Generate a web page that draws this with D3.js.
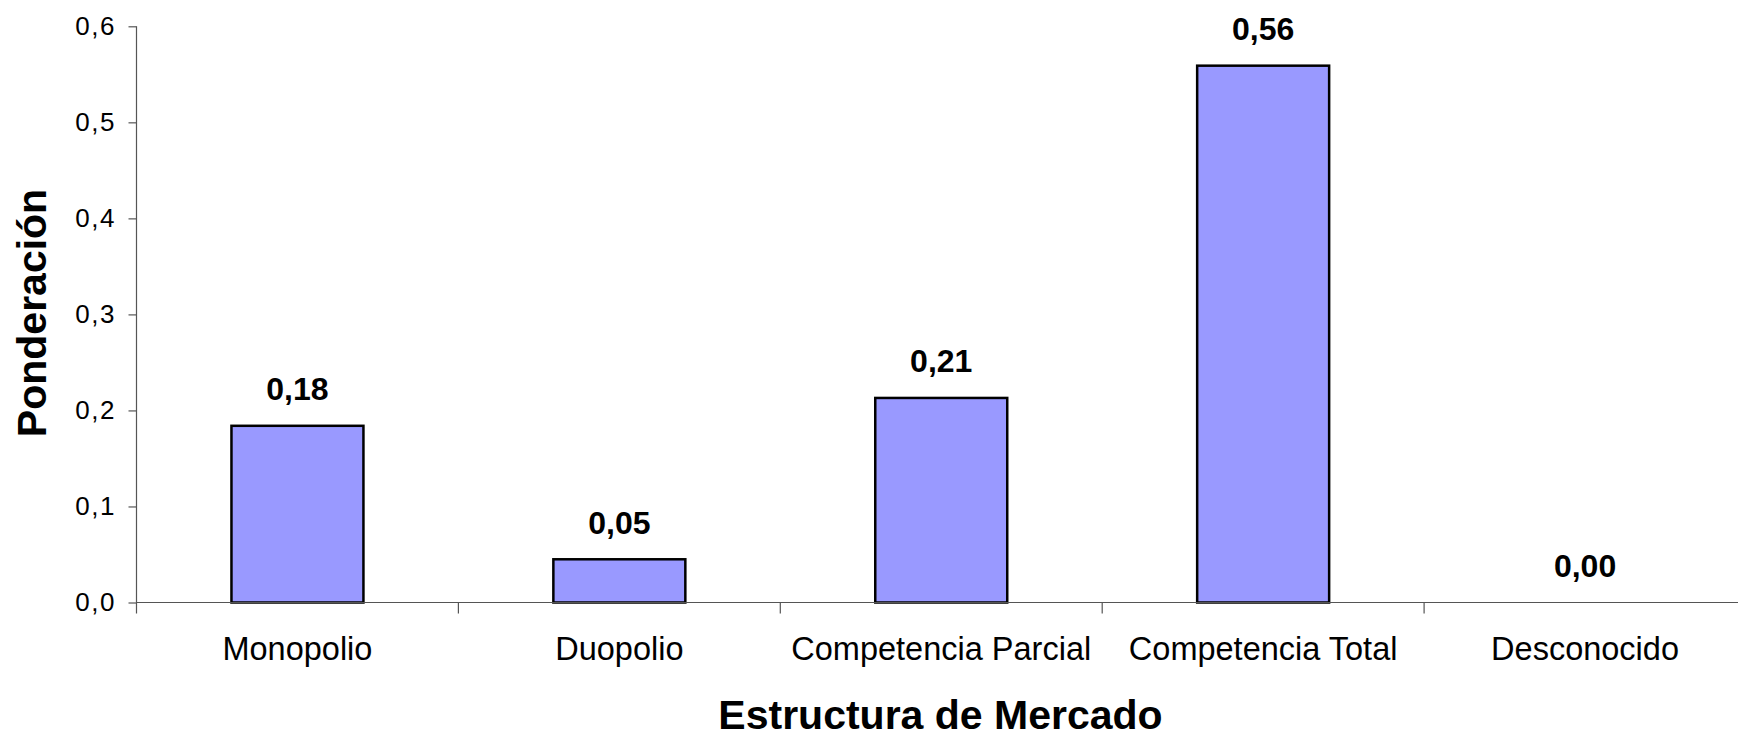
<!DOCTYPE html>
<html>
<head>
<meta charset="utf-8">
<script src="https://cdn.jsdelivr.net/npm/d3@7"></script>
<style>
  html, body { margin: 0; padding: 0; background: #fff; }
  svg { display: block; }
  text { font-family: "Liberation Sans", Arial, sans-serif; fill: #000; }
</style>
</head>
<body>
<svg id="chart" width="1738" height="737"></svg>
<script>
const categories = ["Monopolio", "Duopolio", "Competencia Parcial", "Competencia Total", "Desconocido"];
const values = [0.184, 0.045, 0.213, 0.559, 0.0];
const valueLabels = ["0,18", "0,05", "0,21", "0,56", "0,00"];
const yTicks = [0, 0.1, 0.2, 0.3, 0.4, 0.5, 0.6];
const xTitle = "Estructura de Mercado";
const yTitle = "Ponderación";

(function () {
const W = 1738, H = 737;
const mLeft = 136.5, mRight = 1746, mTop = 26.3, mBottom = 602.5;

const locale = d3.formatLocale({decimal: ",", thousands: ".", grouping: [3], currency: ["", "€"]});
const fmt1 = locale.format(".1f");

const svg = d3.select("#chart");

const x = d3.scaleBand().domain(categories).range([mLeft, mRight]).paddingInner(0.59).paddingOuter(0.295);
const y = d3.scaleLinear().domain([0, 0.6]).range([mBottom, mTop]);
const step = x.step();

// Bars
svg.append("g").selectAll("rect").data(categories.map((c, i) => ({c, v: values[i]})).filter(d => d.v > 0))
  .join("rect")
  .attr("x", d => x(d.c))
  .attr("y", d => y(d.v))
  .attr("width", x.bandwidth())
  .attr("height", d => y(0) - y(d.v))
  .attr("fill", "#9999ff")
  .attr("stroke", "#000")
  .attr("stroke-width", 2.5);

// X axis line
svg.append("line")
  .attr("x1", mLeft).attr("x2", W).attr("y1", y(0)).attr("y2", y(0))
  .attr("stroke", "#555").attr("stroke-width", 1.2);

// X category boundary ticks
svg.append("g").selectAll("line").data(d3.range(1, categories.length))
  .join("line")
  .attr("x1", i => mLeft + i * step).attr("x2", i => mLeft + i * step)
  .attr("y1", y(0)).attr("y2", y(0) + 11)
  .attr("stroke", "#555").attr("stroke-width", 1.2);

// Category labels
svg.append("g").selectAll("text").data(categories)
  .join("text")
  .attr("x", d => x(d) + x.bandwidth() / 2)
  .attr("y", 660)
  .attr("text-anchor", "middle")
  .attr("font-size", 32.5)
  .text(d => d);

// Y axis
const yAxis = d3.axisLeft(y).tickValues(yTicks).tickSize(8).tickPadding(12.5).tickFormat(fmt1);
const gy = svg.append("g").attr("transform", `translate(${mLeft},0)`).call(yAxis);
gy.select(".domain").remove();
gy.selectAll(".tick line").attr("stroke", "#555").attr("stroke-width", 1.2);
gy.selectAll(".tick text").attr("font-size", 26).attr("letter-spacing", 1.5)
  .attr("font-family", "Liberation Sans, Arial, sans-serif").attr("fill", "#000");
svg.append("line")
  .attr("x1", mLeft).attr("x2", mLeft).attr("y1", mTop).attr("y2", y(0) + 11)
  .attr("stroke", "#555").attr("stroke-width", 1.2);

// Value labels
svg.append("g").selectAll("text").data(categories)
  .join("text")
  .attr("x", d => x(d) + x.bandwidth() / 2)
  .attr("y", (d, i) => y(values[i]) - 25.5)
  .attr("text-anchor", "middle")
  .attr("font-size", 32)
  .attr("font-weight", "bold")
  .text((d, i) => valueLabels[i]);

// Axis titles
svg.append("text")
  .attr("x", 940.5).attr("y", 729)
  .attr("text-anchor", "middle")
  .attr("font-size", 41)
  .attr("font-weight", "bold")
  .text(xTitle);

svg.append("text")
  .attr("transform", "translate(46,313) rotate(-90)")
  .attr("text-anchor", "middle")
  .attr("font-size", 41)
  .attr("font-weight", "bold")
  .text(yTitle);
})();
</script>
</body>
</html>
